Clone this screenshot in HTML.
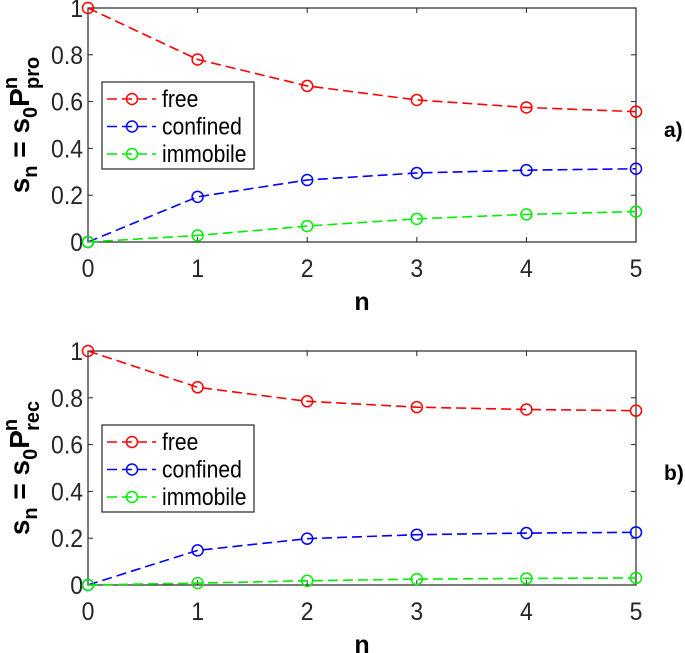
<!DOCTYPE html>
<html><head><meta charset="utf-8"><style>
body{margin:0;background:#fff;}
svg{display:block;font-family:"Liberation Sans",sans-serif;}
</style></head><body>
<svg id="c" width="685" height="653"></svg>
<script>
const nValues=[0,1,2,3,4,5];
const xTicks=[0,1,2,3,4,5];
const yTicks=[0,0.2,0.4,0.6,0.8,1];
const yTickLabels=["0","0.2","0.4","0.6","0.8","1"];
const seriesNames=["free","confined","immobile"];
const proFree=[1,0.78,0.667,0.607,0.575,0.557];
const proConfined=[0,0.193,0.265,0.295,0.307,0.313];
const proImmobile=[0,0.028,0.068,0.099,0.118,0.13];
const recFree=[1,0.845,0.785,0.76,0.75,0.745];
const recConfined=[0,0.148,0.198,0.215,0.222,0.225];
const recImmobile=[0,0.008,0.018,0.025,0.028,0.03];
const colors=["#ff0000","#0000ff","#00ee00"];
const NS="http://www.w3.org/2000/svg";
const svg=document.getElementById('c');
function mk(t,a,p){const e=document.createElementNS(NS,t);for(const k in a)e.setAttribute(k,a[k]);(p||svg).appendChild(e);return e;}
function panel(name,top,bottom,data,sub,tag){
  const L=88,R=636;
  const g=mk('g',{});
  
  
  const sx=v=>L+(v-0)/5*(R-L);
  const sy=v=>bottom-(v-0)/1*(bottom-top);
  mk('rect',{x:L,y:top,width:R-L,height:bottom-top,fill:'#fff',stroke:'#262626','stroke-width':1.2},g);
  xTicks.forEach(t=>{
    mk('line',{x1:sx(t),x2:sx(t),y1:bottom,y2:bottom-5,stroke:'#262626'},g);
    mk('line',{x1:sx(t),x2:sx(t),y1:top,y2:top+5,stroke:'#262626'},g);
    const tx=mk('text',{x:0,y:0,'text-anchor':'middle','font-size':25,fill:'#262626',transform:`translate(${sx(t)},${bottom+35}) scale(0.92,1)`},g);
    tx.textContent=t;
    
    
  });
  yTicks.forEach((t,i)=>{
    mk('line',{x1:L,x2:L+5,y1:sy(t),y2:sy(t),stroke:'#262626'},g);
    mk('line',{x1:R,x2:R-5,y1:sy(t),y2:sy(t),stroke:'#262626'},g);
    const tx=mk('text',{x:0,y:0,'text-anchor':'end','font-size':25,fill:'#262626',transform:`translate(${L-5},${sy(t)+9}) scale(0.92,1)`},g);
    tx.textContent=yTickLabels[i];
    
    
  });
  data.forEach((arr,si)=>{
    const pts=arr.map((v,i)=>sx(nValues[i])+','+sy(v)).join(' ');
    const pl=mk('polyline',{points:pts,fill:'none',stroke:colors[si],'stroke-width':1.6,'stroke-dasharray':'10,5'},g);
    
    
    arr.forEach((v,i)=>{
      const c=mk('circle',{cx:sx(nValues[i]),cy:sy(v),r:5.5,fill:'none',stroke:colors[si],'stroke-width':1.5},g);
      
      
    });
  });
  const xl=mk('text',{x:(L+R)/2,y:bottom+68,'text-anchor':'middle','font-size':25,'font-weight':'bold',fill:'#000'},g);
  xl.textContent='n';
  
  
  const cy=top+117;
  const yl=mk('text',{transform:`translate(29,${cy}) rotate(-90)`,'text-anchor':'middle','font-size':28,'font-weight':'bold',fill:'#000'},g);
  yl.innerHTML=`s<tspan dy="8" font-size="20">n</tspan><tspan dy="-8"> = s</tspan><tspan dy="8" font-size="20">0</tspan><tspan dy="-8">P</tspan><tspan dy="-12" font-size="20" dx="-1">n</tspan><tspan dy="22" dx="-12" font-size="20">${sub}</tspan>`;
  
  
  const lt=top+74;
  const lg=mk('g',{},g);
  
  
  mk('rect',{x:102,y:lt,width:152,height:87,fill:'#fff',stroke:'#262626','stroke-width':1.2},lg);
  seriesNames.forEach((s,i)=>{
    const y=lt+17+i*27.5;
    mk('line',{x1:107,x2:156,y1:y,y2:y,stroke:colors[i],'stroke-width':1.6,'stroke-dasharray':'10,5'},lg);
    mk('circle',{cx:132,cy:y,r:5.5,fill:'none',stroke:colors[i],'stroke-width':1.5},lg);
    const t=mk('text',{x:0,y:0,'font-size':24,fill:'#000',transform:`translate(162,${y+8}) scale(0.88,1)`},lg);
    t.textContent=s;
    
    
  });
  const tg=mk('text',{x:664,y:top+129,'font-size':21,'font-weight':'bold',fill:'#000'},g);
  tg.textContent=tag;
  
  
}
panel('panel-a',8,242,[proFree,proConfined,proImmobile],'pro','a)');
panel('panel-b',351,585,[recFree,recConfined,recImmobile],'rec','b)');
</script>
</body></html>
